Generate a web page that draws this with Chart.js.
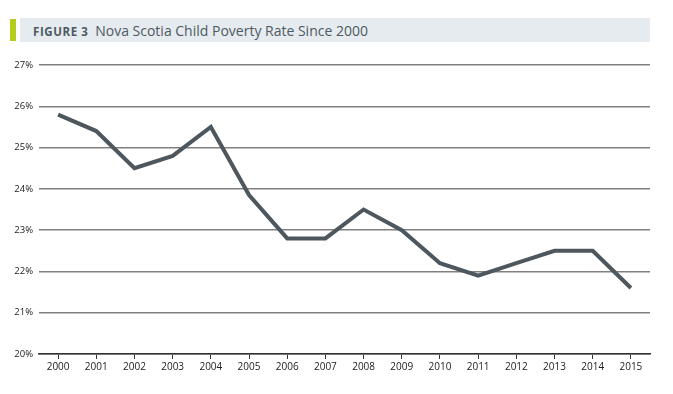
<!DOCTYPE html>
<html>
<head>
<meta charset="utf-8">
<script src="https://cdn.jsdelivr.net/npm/chart.js@4"></script>
<style>
  html, body { margin: 0; padding: 0; background: #fff; }
  body { width: 673px; height: 394px; position: relative; overflow: hidden; font-family: "Open Sans", sans-serif; }
  .accent { position: absolute; left: 10px; top: 19px; width: 6px; height: 22px; background: #b5cc1e; }
  .banner { position: absolute; left: 20px; top: 18px; width: 630px; height: 24px; background: #e6ebef; }
  .title { position: absolute; left: 33px; top: 21px; font-size: 14px; color: #4c5a63; white-space: nowrap; }
  .title b { font-size: 11.5px; letter-spacing: 0.6px; color: #4c5a63; margin-right: 3px; }
  .wrap { position: absolute; left: 0; top: 50px; width: 673px; height: 325px; }
</style>
</head>
<body>
<div class="accent"></div>
<div class="banner"></div>
<div class="title"><b>FIGURE 3</b> Nova Scotia Child Poverty Rate Since 2000</div>
<div class="wrap"><canvas id="povertyChart"></canvas></div>
<script>
// ── Data ─────────────────────────────────────────────────
const years = ['2000','2001','2002','2003','2004','2005','2006','2007',
               '2008','2009','2010','2011','2012','2013','2014','2015'];
const povertyRate = [25.8, 25.4, 24.5, 24.8, 25.5, 23.85, 22.8, 22.8,
                     23.5, 23.0, 22.2, 21.9, 22.2, 22.5, 22.5, 21.6];
const yMin = 20, yMax = 27, yStep = 1;

new Chart(document.getElementById('povertyChart'), {
    type: 'line',
    data: {
        labels: years,
        datasets: [{
            data: povertyRate,
            borderColor: '#4d575d',
            borderWidth: 4,
            pointRadius: 0,
            tension: 0,
            borderJoinStyle: 'miter',
        }],
    },
    options: {
        responsive: true,
        maintainAspectRatio: false,
        animation: false,
        layout: { padding: { top: 15, right: 23, bottom: 0, left: 0 } },
        plugins: { legend: { display: false }, tooltip: { enabled: false } },
        scales: {
            x: {
                offset: true,
                grid: { display: true, drawOnChartArea: false, tickLength: 5, color: '#333' },
                border: { color: '#333', width: 1.5 },
                ticks: { color: '#222', font: { family: 'Open Sans', size: 10 }, padding: 2, maxRotation: 0 },
            },
            y: {
                min: yMin, max: yMax,
                afterFit: s => { s.width = 39; },
                grid: { color: '#808080', lineWidth: 1.5, drawTicks: false },
                border: { display: false },
                ticks: {
                    stepSize: yStep,
                    padding: 6,
                    color: '#222',
                    font: { family: 'Open Sans', size: 9.5 },
                    callback: v => v + '%',
                },
            },
        },
    },
});
</script>
</body>
</html>
